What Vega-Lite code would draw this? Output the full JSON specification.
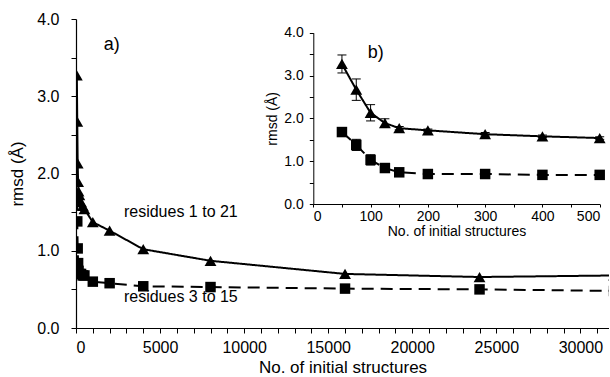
{
  "$schema": "https://vega.github.io/schema/vega-lite/v6.json",
  "background": "white",
  "padding": {"left": 8, "top": 11, "right": 0, "bottom": 0},
  "width": 533,
  "height": 309,
  "view": {"stroke": null},
  "config": {
    "font": "Liberation Sans",
    "axis": {"grid": false, "domainColor": "black", "tickColor": "black", "labelColor": "black", "titleColor": "black", "titleFontWeight": "normal", "labelFont": "Liberation Sans", "titleFont": "Liberation Sans"}
  },
  "datasets": {
    "pts": [
      {"series": "tri", "n": 50, "rmsd": 3.27, "lo": 3.06, "hi": 3.48},
      {"series": "tri", "n": 75, "rmsd": 2.67, "lo": 2.42, "hi": 2.92},
      {"series": "tri", "n": 100, "rmsd": 2.13, "lo": 1.94, "hi": 2.32},
      {"series": "tri", "n": 125, "rmsd": 1.89, "lo": 1.79, "hi": 1.99},
      {"series": "tri", "n": 150, "rmsd": 1.77, "lo": 1.73, "hi": 1.81},
      {"series": "tri", "n": 200, "rmsd": 1.72, "lo": 1.69, "hi": 1.75},
      {"series": "tri", "n": 300, "rmsd": 1.63, "lo": 1.59, "hi": 1.67},
      {"series": "tri", "n": 400, "rmsd": 1.58, "lo": 1.55, "hi": 1.61},
      {"series": "tri", "n": 500, "rmsd": 1.54, "lo": 1.51, "hi": 1.57},
      {"series": "tri", "n": 1000, "rmsd": 1.37},
      {"series": "tri", "n": 2000, "rmsd": 1.26},
      {"series": "tri", "n": 4000, "rmsd": 1.02},
      {"series": "tri", "n": 8000, "rmsd": 0.87},
      {"series": "tri", "n": 16000, "rmsd": 0.70},
      {"series": "tri", "n": 24000, "rmsd": 0.66},
      {"series": "tri", "n": 32000, "rmsd": 0.68},
      {"series": "sq", "n": 50, "rmsd": 1.68, "lo": 1.60, "hi": 1.76},
      {"series": "sq", "n": 75, "rmsd": 1.38, "lo": 1.25, "hi": 1.51},
      {"series": "sq", "n": 100, "rmsd": 1.03, "lo": 0.91, "hi": 1.15},
      {"series": "sq", "n": 125, "rmsd": 0.84, "lo": 0.80, "hi": 0.88},
      {"series": "sq", "n": 150, "rmsd": 0.74, "lo": 0.72, "hi": 0.76},
      {"series": "sq", "n": 200, "rmsd": 0.70, "lo": 0.68, "hi": 0.72},
      {"series": "sq", "n": 300, "rmsd": 0.70, "lo": 0.68, "hi": 0.72},
      {"series": "sq", "n": 400, "rmsd": 0.68, "lo": 0.66, "hi": 0.70},
      {"series": "sq", "n": 500, "rmsd": 0.68, "lo": 0.66, "hi": 0.70},
      {"series": "sq", "n": 1000, "rmsd": 0.60},
      {"series": "sq", "n": 2000, "rmsd": 0.58},
      {"series": "sq", "n": 4000, "rmsd": 0.54},
      {"series": "sq", "n": 8000, "rmsd": 0.53},
      {"series": "sq", "n": 16000, "rmsd": 0.51},
      {"series": "sq", "n": 24000, "rmsd": 0.50},
      {"series": "sq", "n": 32000, "rmsd": 0.48}
    ]
  },
  "layer": [
    {
      "encoding": {
        "x": {"field": "n", "type": "quantitative", "scale": {"domain": [0, 31700], "nice": false},
          "axis": {"orient": "bottom", "values": [0,1000,2000,3000,4000,5000,6000,7000,8000,9000,10000,11000,12000,13000,14000,15000,16000,17000,18000,19000,20000,21000,22000,23000,24000,25000,26000,27000,28000,29000,30000,31000],
            "labelExpr": "datum.value % 5000 === 0 ? format(datum.value, 'd') : ''", "labelOverlap": false,
            "title": "No. of initial structures", "titleFontSize": 17, "labelFontSize": 16, "tickSize": 5, "labelPadding": 6, "titlePadding": 4, "domainWidth": 1.2}},
        "y": {"field": "rmsd", "type": "quantitative", "scale": {"domain": [0, 4], "nice": false},
          "axis": {"orient": "left", "values": [0,0.5,1,1.5,2,2.5,3,3.5,4], "labelExpr": "datum.value % 1 === 0 ? format(datum.value, '.1f') : ''", "labelOverlap": false,
            "title": "rmsd (Å)", "titleFontSize": 17, "labelFontSize": 16, "tickSize": 5, "labelPadding": 12, "titlePadding": 10, "domainWidth": 1.2}}
      },
      "layer": [
        {"data": {"name": "pts"},
         "mark": {"type": "line", "color": "black", "strokeWidth": 2, "clip": true},
         "encoding": {"detail": {"field": "series"},
           "strokeDash": {"field": "series", "type": "nominal", "scale": {"domain": ["tri", "sq"], "range": [[1, 0], [12, 7]]}, "legend": null}}},
        {"data": {"name": "pts"},
         "mark": {"type": "point", "filled": true, "color": "black", "opacity": 1, "clip": true},
         "encoding": {
           "shape": {"field": "series", "type": "nominal", "scale": {"domain": ["tri", "sq"], "range": ["triangle-up", "square"]}, "legend": null},
           "size": {"field": "series", "type": "nominal", "scale": {"domain": ["tri", "sq"], "range": [140, 110]}, "legend": null}}},
        {"data": {"values": [{"n": 1650, "rmsd": 3.66}]},
         "mark": {"type": "text", "text": "a)", "fontSize": 18, "align": "left", "baseline": "middle", "color": "black"}},
        {"data": {"values": [{"n": 2850, "rmsd": 1.50}]},
         "mark": {"type": "text", "text": "residues 1 to 21", "fontSize": 16, "align": "left", "baseline": "middle", "color": "black"}},
        {"data": {"values": [{"n": 2850, "rmsd": 0.40}]},
         "mark": {"type": "text", "text": "residues 3 to 15", "fontSize": 16, "align": "left", "baseline": "middle", "color": "black"}}
      ]
    },
    {
      "encoding": {
        "x": {"field": "n", "type": "quantitative", "scale": {"domain": [0, 500], "nice": false, "range": [237.3, 523.7]},
          "axis": {"orient": "bottom", "offset": -124, "values": [0,50,100,150,200,250,300,350,400,450,500], "labelExpr": "datum.value % 100 === 0 ? format(datum.value, 'd') : ''", "labelOverlap": false,
            "title": "No. of initial structures", "titleFontSize": 14, "labelFontSize": 14, "tickSize": 3, "labelPadding": 2, "titlePadding": 1}},
        "y": {"field": "rmsd", "type": "quantitative", "scale": {"domain": [0, 4], "nice": false, "range": [185, 13.7]},
          "axis": {"orient": "left", "offset": -237.3, "values": [0,0.5,1,1.5,2,2.5,3,3.5,4], "labelExpr": "datum.value % 1 === 0 ? format(datum.value, '.1f') : ''", "labelOverlap": false,
            "title": "rmsd (Å)", "titleFontSize": 14, "labelFontSize": 14, "tickSize": 4, "labelPadding": 6, "titlePadding": 4}}
      },
      "layer": [
        {"data": {"values": [{}]},
         "mark": {"type": "rect", "fill": "white", "stroke": "black", "strokeWidth": 1.2},
         "encoding": {"x": {"datum": 0}, "x2": {"datum": 500}, "y": {"datum": 0}, "y2": {"datum": 4}}},
        {"data": {"name": "pts"}, "transform": [{"filter": "datum.n <= 500"}],
         "mark": {"type": "rule", "color": "black", "strokeWidth": 1, "opacity": 1},
         "encoding": {"y": {"field": "lo", "type": "quantitative"}, "y2": {"field": "hi"}}},
        {"data": {"name": "pts"}, "transform": [{"filter": "datum.n <= 500"}],
         "mark": {"type": "tick", "color": "black", "opacity": 1, "orient": "horizontal", "size": 9, "thickness": 1},
         "encoding": {"y": {"field": "lo", "type": "quantitative"}}},
        {"data": {"name": "pts"}, "transform": [{"filter": "datum.n <= 500"}],
         "mark": {"type": "tick", "color": "black", "opacity": 1, "orient": "horizontal", "size": 9, "thickness": 1},
         "encoding": {"y": {"field": "hi", "type": "quantitative"}}},
        {"data": {"name": "pts"}, "transform": [{"filter": "datum.n <= 500"}],
         "mark": {"type": "line", "color": "black", "strokeWidth": 2},
         "encoding": {"detail": {"field": "series"},
           "strokeDash": {"field": "series", "type": "nominal", "scale": {"domain": ["tri", "sq"], "range": [[1, 0], [12, 7]]}, "legend": null}}},
        {"data": {"name": "pts"}, "transform": [{"filter": "datum.n <= 500"}],
         "mark": {"type": "point", "filled": true, "color": "black", "opacity": 1},
         "encoding": {
           "shape": {"field": "series", "type": "nominal", "scale": {"domain": ["tri", "sq"], "range": ["triangle-up", "square"]}, "legend": null},
           "size": {"field": "series", "type": "nominal", "scale": {"domain": ["tri", "sq"], "range": [140, 110]}, "legend": null}}},
        {"data": {"values": [{"n": 95, "rmsd": 3.53}]},
         "mark": {"type": "text", "text": "b)", "fontSize": 18, "align": "left", "baseline": "middle", "color": "black"}}
      ]
    }
  ],
  "resolve": {"scale": {"x": "independent", "y": "independent"}, "axis": {"x": "independent", "y": "independent"}}
}
